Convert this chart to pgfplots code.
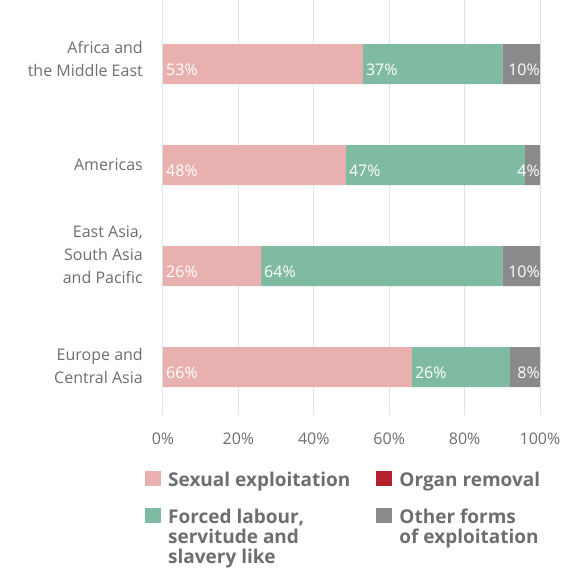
\documentclass[border=0pt]{standalone}
\usepackage{fontspec}
\setmainfont{Open Sans}
\usepackage{pgfplots}
\usepackage{pgfplotstable}
\pgfplotsset{compat=1.18}
\definecolor{sexc}{HTML}{E8B1AF}
\definecolor{forc}{HTML}{7FBAA3}
\definecolor{othc}{HTML}{8A8A8C}
\definecolor{orgc}{HTML}{B3232D}
\definecolor{gridc}{HTML}{D9E8E6}
\definecolor{txtc}{HTML}{6E6E6E}
\definecolor{legc}{HTML}{6E6E70}
% multi-line tick label; #1 = extra depth (twice the upward shift)
\newcommand{\rlab}[2]{\raisebox{0pt}[\height][\dimexpr\depth+#1\relax]{\begin{tabular}{@{}r@{}}#2\end{tabular}}}

% y: 3 = Africa, 2 = Americas, 1 = East Asia, 0 = Europe
\pgfplotstableread{
y sex forced other
3 53   37   10
2 48.5 47.5 4
1 26   64   10
0 66   26   8
}\datatable

% label positions (start of first two segments) and label values
\pgfplotstableread{
x y l
0 3 53
53 3 37
0 2 48
48.5 2 47
0 1 26
26 1 64
0 0 66
66 0 26
}\labtable
% labels of the last segment, set flush with the bar end
\pgfplotstableread{
x y l
100 3 10
100 2 4
100 1 10
100 0 8
}\labtableend

\begin{document}
\begin{tikzpicture}
\useasboundingbox (0,0) rectangle (566pt,571pt);
\begin{axis}[
  at={(163pt,156pt)}, anchor=south west,
  scale only axis,
  width=377pt, height=415pt,
  xbar stacked,
  bar width=40pt,
  xmin=0, xmax=100,
  ymin=-0.475, ymax=3.634,
  axis line style={draw=none},
  xmajorgrids,
  grid style={gridc, line width=1pt},
  xtick={0,20,40,60,80,100},
  xticklabels={0\%,20\%,40\%,60\%,80\%,100\%},
  ytick={0,1,2,3},
  yticklabels={{\rlab{0pt}{Europe and\\Central Asia}},{\rlab{20pt}{East Asia,\\South Asia\\and Pacific}},{Americas},{\rlab{8pt}{Africa and\\the Middle East}}},
  major tick length=0pt,
  xticklabel style={font=\fontsize{16}{19}\selectfont, text=txtc, anchor=north, yshift=-14pt},
  yticklabel style={font=\fontsize{16}{23}\selectfont, text=txtc, inner sep=0pt, xshift=-20pt},
  legend style={at={(0,0)}, anchor=north west, xshift=-18pt, yshift=-56pt, draw=none, fill=none,
    inner sep=0pt, font=\bfseries\fontsize{19}{20}\selectfont, text=legc,
    nodes={inner sep=0pt, text height=15pt, text depth=5pt},
    cells={anchor=base west},
    row sep=0pt,
    /tikz/row 1/.style={nodes={text depth=22pt}},
    /tikz/column 1/.style={column sep=7pt},
    /tikz/column 2/.style={column sep=26pt},
    /tikz/column 3/.style={column sep=7pt}},
  legend columns=2,
  legend image code/.code={\fill[#1] (0pt,0pt) rectangle (16pt,15pt);},
  clip=false,
]
\addplot[draw=none, fill=sexc, forget plot] table[x=sex, y=y] {\datatable};
\addplot[draw=none, fill=forc, forget plot] table[x=forced, y=y] {\datatable};
\addplot[draw=none, fill=othc, forget plot] table[x=other, y=y] {\datatable};
\addlegendimage{fill=sexc, draw=none}
\addlegendentry{Sexual exploitation}
\addlegendimage{fill=orgc, draw=none}
\addlegendentry{Organ removal}
\addlegendimage{fill=forc, draw=none}
\addlegendentry{Forced labour,}
\addlegendimage{fill=othc, draw=none}
\addlegendentry{Other forms}
\addlegendimage{empty legend}
\addlegendentry{servitude and}
\addlegendimage{empty legend}
\addlegendentry{of exploitation}
\addlegendimage{empty legend}
\addlegendentry{slavery like}
\end{axis}
\begin{axis}[
  at={(163pt,156pt)}, anchor=south west,
  scale only axis,
  width=377pt, height=415pt,
  xmin=0, xmax=100,
  ymin=-0.475, ymax=3.634,
  hide axis, clip=false,
]
\addplot[only marks, mark=none, point meta=explicit symbolic,
  nodes near coords={\pgfplotspointmeta\%},
  every node near coord/.append style={font=\fontsize{16}{19}\selectfont, text=white, anchor=west, inner sep=0pt, xshift=3pt, yshift=-6pt}]
  table[x=x, y=y, meta=l] {\labtable};
\addplot[only marks, mark=none, point meta=explicit symbolic,
  nodes near coords={\pgfplotspointmeta\%},
  every node near coord/.append style={font=\fontsize{16}{19}\selectfont, text=white, anchor=east, inner sep=0pt, xshift=0pt, yshift=-6pt}]
  table[x=x, y=y, meta=l] {\labtableend};
\end{axis}
\end{tikzpicture}
\end{document}
